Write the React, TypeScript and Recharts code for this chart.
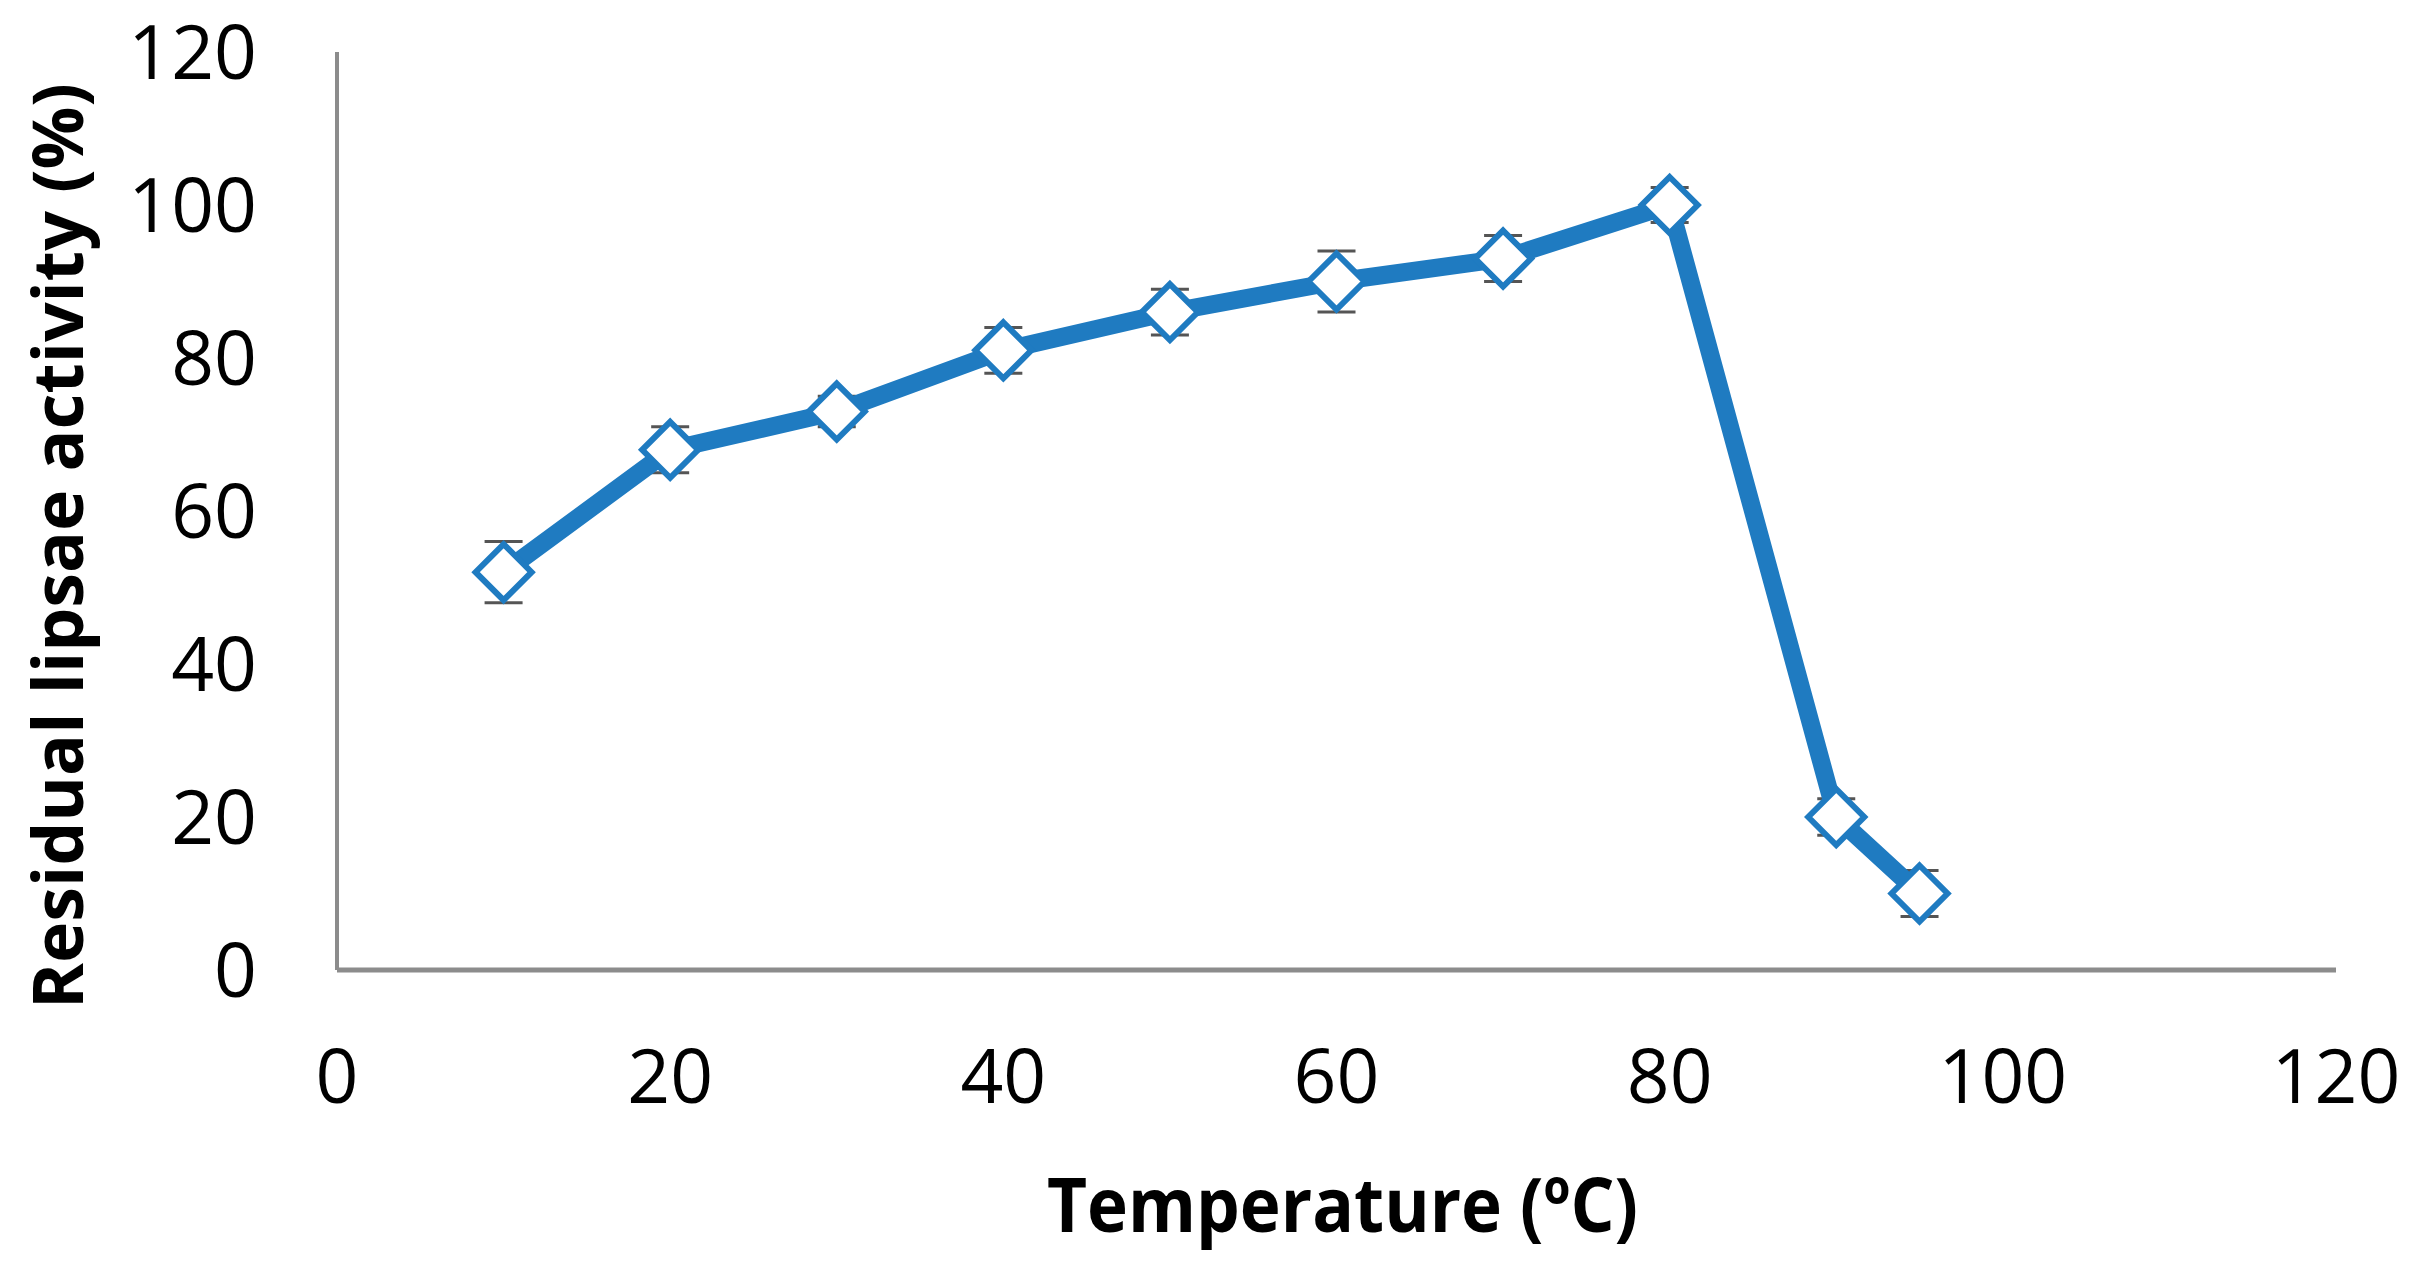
import React from "react"
import { LineChart, Line, XAxis, YAxis, ErrorBar, Label } from "recharts"

// Temperature (°C) vs residual lipase activity (%)
const temperatures = [10, 20, 30, 40, 50, 60, 70, 80, 90, 95]
const activity = [52, 68, 73, 81, 86, 90, 93, 100, 20, 10]
const activityErr = [4, 3, 2, 3, 3, 4, 3, 2.3, 2.4, 3]

const xTicks = [0, 20, 40, 60, 80, 100, 120]
const yTicks = [0, 20, 40, 60, 80, 100, 120]

const data = temperatures.map((t, i) => ({
  temp: t,
  activity: activity[i],
  err: activityErr[i],
}))

const BLUE = "#1f7bc1"
const AXIS_GREY = "#8c8c8c"
const FONT = "'Open Sans', 'Noto Sans', sans-serif"

interface DotProps {
  cx?: number
  cy?: number
  index?: number
}

const Diamond = ({ cx, cy, index }: DotProps) => {
  if (cx == null || cy == null) return null
  const r = 28
  return (
    <path
      key={`dot-${index}`}
      d={`M${cx},${cy - r} L${cx + r},${cy} L${cx},${cy + r} L${cx - r},${cy} Z`}
      fill="#fff"
      stroke={BLUE}
      strokeWidth={6}
      strokeLinejoin="miter"
    />
  )
}

interface ViewBox {
  x: number
  y: number
  width: number
  height: number
}

const YTitle = ({ viewBox }: { viewBox?: ViewBox }) => {
  if (!viewBox) return null
  const x = viewBox.x + 83
  const y = viewBox.y + viewBox.height / 2 + 35
  return (
    <text
      x={x}
      y={y}
      transform={`rotate(-90, ${x}, ${y})`}
      textAnchor="middle"
      fontFamily={FONT}
      fontWeight={700}
      fontSize={70}
      fill="#000"
      textLength={926}
      lengthAdjust="spacingAndGlyphs"
    >
      Residual lipsae activity (%)
    </text>
  )
}

const XTitle = ({ viewBox }: { viewBox?: ViewBox }) => {
  if (!viewBox) return null
  const x = viewBox.x + viewBox.width / 2 + 6
  const y = viewBox.y + 262
  return (
    <text
      x={x}
      y={y}
      textAnchor="middle"
      fontFamily={FONT}
      fontWeight={700}
      fontSize={76}
      fill="#000"
      textLength={591}
      lengthAdjust="spacingAndGlyphs"
    >
      Temperature (ºC)
    </text>
  )
}

export default function App() {
  return (
    <div style={{ position: "absolute", left: 0, top: 0, width: 2415, height: 1270, background: "#fff" }}>
      <LineChart
        width={2415}
        height={1270}
        data={data}
        margin={{ top: 52, right: 79, bottom: 0, left: 0 }}
      >
        <XAxis
          type="number"
          dataKey="temp"
          domain={[0, 120]}
          ticks={xTicks}
          height={300}
          tickLine={false}
          tickSize={0}
          tickMargin={80}
          axisLine={{ stroke: AXIS_GREY, strokeWidth: 5 }}
          tick={{ fontSize: 75, fill: "#000", fontFamily: FONT }}
          interval={0}
        >
          <Label content={<XTitle />} />
        </XAxis>
        <YAxis
          type="number"
          domain={[0, 120]}
          ticks={yTicks}
          width={337}
          tickLine={false}
          tickSize={0}
          tickMargin={80}
          axisLine={{ stroke: AXIS_GREY, strokeWidth: 4 }}
          tick={{ fontSize: 75, fill: "#000", fontFamily: FONT }}
          interval={0}
        >
          <Label content={<YTitle />} />
        </YAxis>
        {/* error bars only, drawn first so the line and markers sit on top */}
        <Line
          type="linear"
          dataKey="activity"
          stroke="none"
          dot={false}
          activeDot={false}
          legendType="none"
          isAnimationActive={false}
        >
          <ErrorBar dataKey="err" direction="y" width={19} stroke="#555" strokeWidth={3} />
        </Line>
        <Line
          type="linear"
          dataKey="activity"
          stroke={BLUE}
          strokeWidth={18}
          strokeLinejoin="round"
          dot={<Diamond />}
          activeDot={false}
          isAnimationActive={false}
        />
      </LineChart>
    </div>
  )
}
